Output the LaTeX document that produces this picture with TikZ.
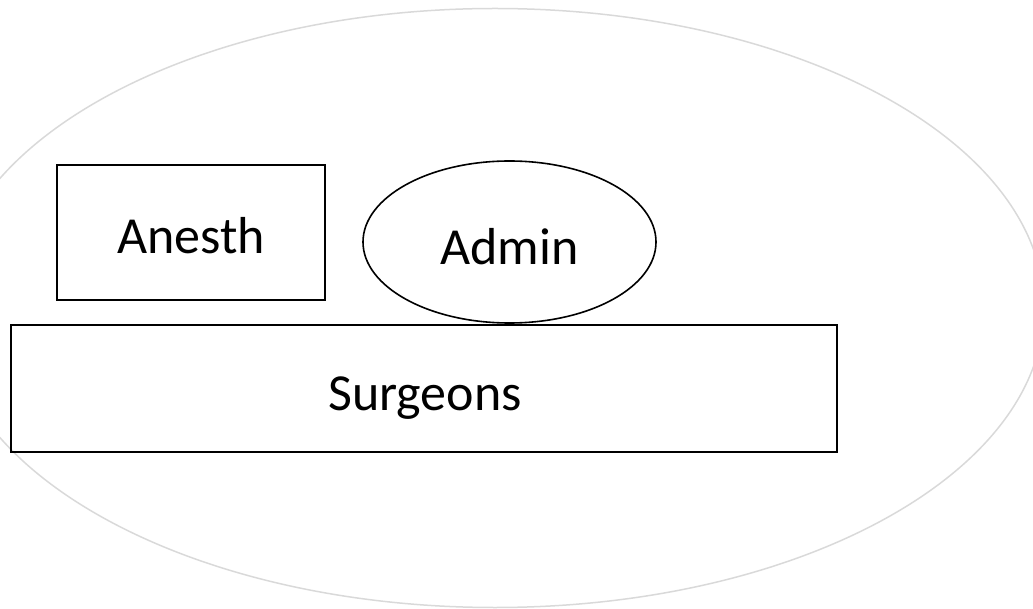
\documentclass[tikz,border=0pt]{standalone}
\usepackage{fontspec}
\setmainfont{Carlito}
\usetikzlibrary{shapes.geometric}
\tikzset{
  box/.style={draw=black, line width=2pt, rectangle, inner sep=0pt},
  oval/.style={draw=black, line width=1.6pt, ellipse, inner sep=0pt},
  outer/.style={draw=black!15, line width=1.5pt, ellipse, inner sep=0pt},
  lbl/.style={font=\fontsize{52}{60}\selectfont, anchor=base, inner sep=0pt}
}
\begin{document}
\begin{tikzpicture}[x=1pt,y=-1pt]
\useasboundingbox (0,0) rectangle (1033,609);
\begin{scope}
\clip (0,0) rectangle (1033,609);
\node[outer, minimum width=1098pt, minimum height=599pt] (world) at (495,308) {};
\end{scope}
\node[box, minimum width=268pt, minimum height=135pt] (anesth) at (191,232.5) {};
\node[lbl] (anesthtext) at (191,254) {Anesth};
\node[oval, minimum width=293pt, minimum height=162pt] (admin) at (509.5,242) {};
\node[lbl] (admintext) at (509.5,265) {Admin};
\node[box, minimum width=826pt, minimum height=127pt] (surgeons) at (424,388.5) {};
\node[lbl] (surgeonstext) at (425,410) {Surgeons};
\end{tikzpicture}
\end{document}
